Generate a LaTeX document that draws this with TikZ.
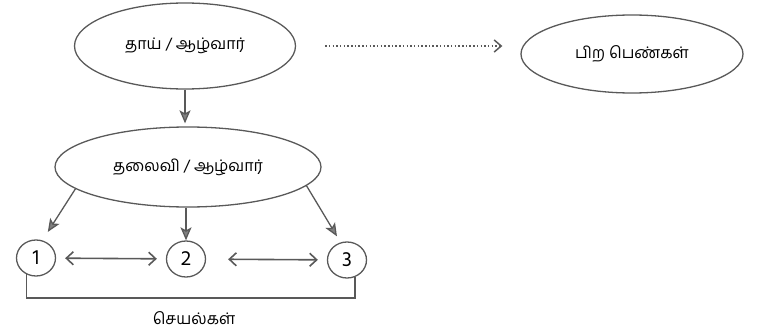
\documentclass[tikz,border=0pt]{standalone}
\usepackage{fontspec}
\newfontfamily\tamilfont[Script=Tamil]{Hind Madurai}
\usetikzlibrary{arrows.meta,shapes.geometric,calc}

\begin{document}
\begin{tikzpicture}[x=1pt,y=-1pt]
\tikzset{
  ink/.style={draw=black!65, line width=1.3pt},
  bubble/.style={ink, ellipse, inner sep=0pt,
    font=\tamilfont\fontsize{16}{18}\selectfont},
  numnode/.style={ink, ellipse, inner sep=0pt,
    minimum width=39pt, minimum height=36pt,
    font=\tamilfont\fontsize{21}{21}\selectfont},
  link/.style={ink, -{Stealth[length=13pt,width=11pt,inset=3pt,fill=black!50]}},
  both/.style={ink, line width=1.6pt, {Straight Barb[length=7pt,width=13pt]}-{Straight Barb[length=7pt,width=13pt]}},
  hint/.style={ink, line width=1.5pt, dash pattern=on 1.5pt off 2.2pt, -{Straight Barb[length=7pt,width=12pt]}},
  caption/.style={font=\tamilfont\fontsize{16}{18}\selectfont}
}
\useasboundingbox (0,0) rectangle (770,334);

% ellipses
\node[bubble, minimum width=221pt, minimum height=86pt] (mother) at (185,46) {தாய் / ஆழ்வார்};
\node[bubble, minimum width=222pt, minimum height=78pt] (others) at (632,54) {பிற பெண்கள்};
\node[bubble, minimum width=266pt, minimum height=80pt] (heroine) at (188,167) {தலைவி / ஆழ்வார்};

% numbered actions
\node[numnode] (one) at (36,258) {1};
\node[numnode] (two) at (186,259) {2};
\node[numnode] (three) at (347,260) {3};

% arrows
\draw[hint, shorten <=29pt, shorten >=18pt] (mother.east) -- (mother.east -| others.west);
\draw[link, shorten >=3pt] (mother.south) -- (mother.south |- heroine.north);
\draw[link, shorten >=10pt] (heroine.191) -- (one.70);
\draw[link] (heroine.south -| two) -- (two.north);
\draw[link, shorten >=7pt] (heroine.351) -- (three.110);
\draw[both, shorten <=9pt, shorten >=9pt] (one) -- (two);
\draw[both, shorten <=22pt, shorten >=9pt] (two) -- (three);

% bracket under the actions
\coordinate (base) at (194,298);
\draw[ink] (one.240) |- (base) -| (three.295);
\node[caption] (acts) at (194,318) {செயல்கள்};
\end{tikzpicture}
\end{document}
